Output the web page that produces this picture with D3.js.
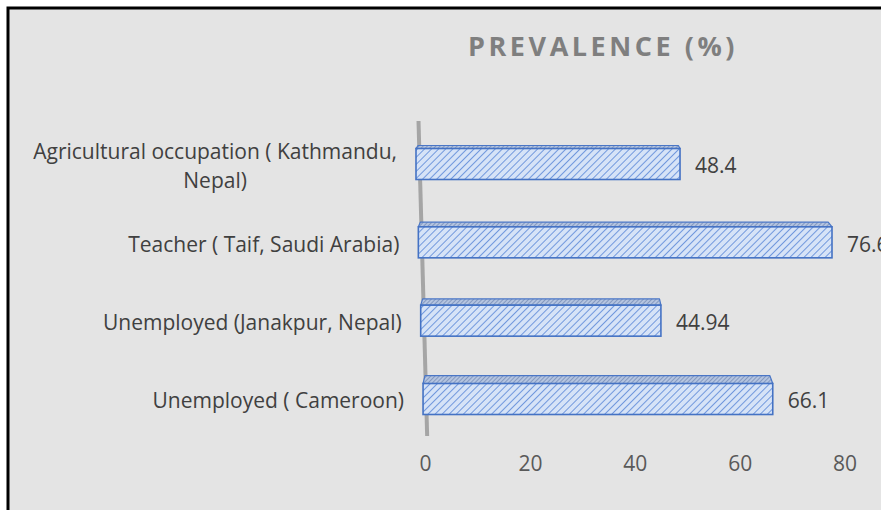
<!DOCTYPE html>
<html>
<head>
<meta charset="utf-8">
<script src="https://cdn.jsdelivr.net/npm/d3@7"></script>
<style>
  html, body { margin: 0; padding: 0; background: #fff; }
  svg { display: block; }
</style>
</head>
<body>
<script>
const WIDTH = 881;
const HEIGHT = 510;

const categories = [
  "Agricultural occupation ( Kathmandu, Nepal)",
  "Teacher ( Taif, Saudi Arabia)",
  "Unemployed (Janakpur, Nepal)",
  "Unemployed ( Cameroon)"
];
const labelLines = [
  ["Agricultural occupation ( Kathmandu,", "Nepal)"],
  ["Teacher ( Taif, Saudi Arabia)"],
  ["Unemployed (Janakpur, Nepal)"],
  ["Unemployed ( Cameroon)"]
];
const values = [48.4, 76.6, 44.94, 66.1];
const valueLabels = ["48.4", "76.6", "44.94", "66.1"];
const tickValues = [0, 20, 40, 60, 80];
const title = "PREVALENCE (%)";

const FONT = "'Open Sans', Lato, sans-serif";
const FS = 21;
const BAR_H = 31;

// the excel 3d look: rows lower down sit a bit further right and a bit narrower
const y = d3.scalePoint(categories, [164, 399]);
function rowScale(yy) {
  const x0 = 416 + (yy - 164) * 0.03;
  const k = 5.455 - (yy - 164) * 0.0007;
  return d3.scaleLinear([0, 80], [x0, x0 + 80 * k]);
}
function depth(yy) { return 3 + (yy - 164) * 0.021; }

const svg = d3.select("body").append("svg")
    .attr("width", WIDTH)
    .attr("height", HEIGHT);

const defs = svg.append("defs");
const front = defs.append("pattern")
    .attr("id", "hatch")
    .attr("patternUnits", "userSpaceOnUse")
    .attr("width", 5).attr("height", 5)
    .attr("patternTransform", "rotate(45)");
front.append("rect").attr("width", 5).attr("height", 5).attr("fill", "#d6e3f7");
front.append("line").attr("x1", 0).attr("y1", 0).attr("x2", 0).attr("y2", 5)
    .attr("stroke", "#6590da").attr("stroke-width", 1.8);

const topPat = defs.append("pattern")
    .attr("id", "hatchTop")
    .attr("patternUnits", "userSpaceOnUse")
    .attr("width", 3).attr("height", 3)
    .attr("patternTransform", "rotate(45)");
topPat.append("rect").attr("width", 3).attr("height", 3).attr("fill", "#b4c4e0");
topPat.append("line").attr("x1", 0).attr("y1", 0).attr("x2", 0).attr("y2", 3)
    .attr("stroke", "#6f86b3").attr("stroke-width", 1.4);

// background + border
svg.append("rect")
    .attr("x", 8).attr("y", 8)
    .attr("width", WIDTH + 10).attr("height", HEIGHT + 10)
    .attr("fill", "#e4e4e4")
    .attr("stroke", "#000")
    .attr("stroke-width", 3);

const titleText = svg.append("text")
    .attr("x", 603)
    .attr("y", 56)
    .attr("text-anchor", "middle")
    .style("font", `bold 27px ${FONT}`)
    .attr("fill", "#7f7f7f")
    .text(title);
// spread the letters out to the width the title takes in the reference
const tw = titleText.node().getComputedTextLength();
titleText.style("letter-spacing", `${Math.max(0, (270 - tw) / title.length)}px`);

// back wall (value axis plane)
svg.append("line")
    .attr("x1", rowScale(121)(0) + 3.8).attr("y1", 121)
    .attr("x2", rowScale(436)(0) + 3).attr("y2", 436)
    .attr("stroke", "#a5a5a5")
    .attr("stroke-width", 4);

const bars = svg.append("g").selectAll("g")
  .data(categories.map((c, i) => ({ name: c, value: values[i], label: valueLabels[i], lines: labelLines[i] })))
  .join("g");

bars.each(function(d) {
  const g = d3.select(this);
  const cy = y(d.name);
  const xs = rowScale(cy);
  const xl = xs(0), xr = xs(d.value);
  const top = cy - BAR_H / 2;
  const dp = depth(cy);
  const vx = 560, s = 0.014;
  const pts = [
    [xl, top], [xr, top],
    [xr - (xr - vx) * s, top - dp], [xl + (vx - xl) * s, top - dp]
  ];
  g.append("polygon")
      .attr("points", pts.map(p => p.join(",")).join(" "))
      .attr("fill", "url(#hatchTop)")
      .attr("stroke", "#4a76c6")
      .attr("stroke-width", 1.2)
      .attr("stroke-linejoin", "round");
  g.append("rect")
      .attr("x", xl).attr("y", top)
      .attr("width", xr - xl).attr("height", BAR_H)
      .attr("fill", "url(#hatch)")
      .attr("stroke", "#4472c4")
      .attr("stroke-width", 1.6);

  g.append("text")
      .attr("x", xr + 15)
      .attr("y", cy + 2)
      .attr("dy", "0.35em")
      .style("font", `${FS}px ${FONT}`)
      .attr("fill", "#404040")
      .text(d.label);

  // category label, lines centred on each other, block right aligned
  const right = xl - 19;
  const lbl = g.append("text")
      .style("font", `${FS}px ${FONT}`)
      .attr("fill", "#404040")
      .attr("text-anchor", "middle");
  const n = d.lines.length;
  const spans = lbl.selectAll("tspan").data(d.lines).join("tspan")
      .attr("y", (l, i) => cy + 2 + (i - (n - 1) / 2) * 29)
      .attr("dy", "0.35em")
      .text(l => l);
  let maxW = 0;
  spans.each(function() { maxW = Math.max(maxW, this.getComputedTextLength()); });
  spans.attr("x", right - maxW / 2);
});

// value axis labels at the floor
const axisY = 468;
const axis = d3.axisBottom(rowScale(axisY))
    .tickValues(tickValues)
    .tickSize(0)
    .tickPadding(0);
const ax = svg.append("g")
    .attr("transform", `translate(0,${axisY - 12})`)
    .call(axis);
ax.select(".domain").remove();
ax.selectAll("text")
    .style("font", `${FS}px ${FONT}`)
    .attr("fill", "#595959");
</script>
</body>
</html>
